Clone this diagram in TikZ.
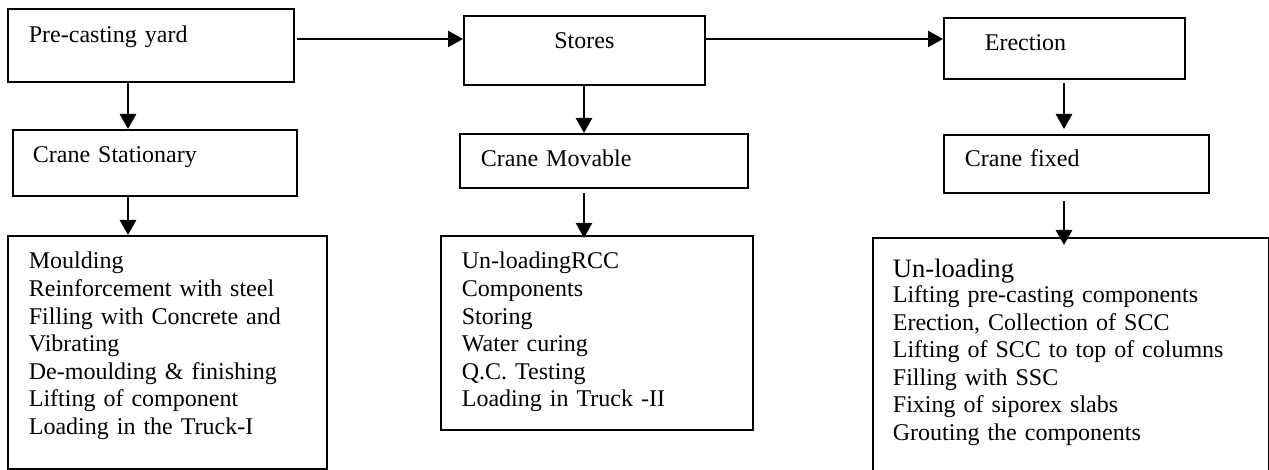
\documentclass[tikz,border=0pt]{standalone}
\usepackage{fontspec}
\setmainfont{Liberation Serif}
\usepackage{tikz}
\usetikzlibrary{
arrows.meta,
positioning,
calc
}

\begin{document}
\begin{tikzpicture}[
x=0.5pt, y=-0.5pt,
box/.style={
draw,
line width=0.9pt,
anchor=north west,
inner ysep=0pt,
inner xsep=10.5pt,
align=left,
font=\fontsize{12}{13.8}\selectfont
},
arrow/.style={-{Triangle[length=7.5pt,width=8pt]},line width=1.3pt}
]

\clip (0,0) rectangle (1269,470);

% top row
\node[box,text width=122pt,text height=17pt,text depth=19.5pt] (yard) at (7,8) {Pre-casting yard};
\node[box,inner xsep=0pt,align=center,text width=120.5pt,text height=16.5pt,text depth=18pt] (stores) at (463,15) {Stores};
\node[box,inner xsep=20.5pt,text width=79.5pt,text height=16.5pt,text depth=14pt] (erection) at (943,17) {Erection};

% cranes
\node[box,inner xsep=10pt,text width=122pt,text height=16.5pt,text depth=16.5pt] (stationary) at (12,129) {Crane Stationary};
\node[box,text width=123pt,text height=16.5pt,text depth=10.5pt] (movable) at (459,133) {Crane Movable};
\node[box,text width=111.5pt,text height=16pt,text depth=13pt] (fixed) at (943,134) {Crane fixed};

% activities
\node[box,text width=138.5pt,text height=16.5pt,text depth=100pt] (yardtasks) at (7,235) {Moulding\\
Reinforcement with steel\\
Filling with Concrete and\\
Vibrating\\
De-moulding \& finishing\\
Lifting of component\\
Loading in the Truck-I};
\node[box,text width=135pt,text height=16.5pt,text depth=80.5pt] (storetasks) at (440,235) {Un-loadingRCC\\
Components\\
Storing\\
Water curing\\
Q.C. Testing\\
Loading in Truck -II};
\node[box,inner xsep=10pt,text width=178pt,text height=20pt,text depth=101.5pt] (erecttasks) at (872,237) {{\fontsize{13.3}{14}\selectfont Un-loading}\\[-1.5pt]
Lifting pre-casting components\\
Erection, Collection of SCC\\
Lifting of SCC to top of columns\\
Filling with SSC\\
Fixing of siporex slabs\\
Grouting the components};

\draw[arrow,shorten <=1pt] (yard.east |- 0,39) -- (stores.west |- 0,39);
\draw[arrow] (stores.east |- 0,39) -- (erection.west |- 0,39);
\draw[arrow] (yard.south -| 128,0) -- (stationary.north -| 128,0);
\draw[arrow] (stationary.south -| 128,0) -- (yardtasks.north -| 128,0);
\draw[arrow] (stores.south -| 584,0) -- (movable.north -| 584,0);
\draw[arrow,shorten <=2pt,shorten >=-1.5pt] (movable.south -| 584,0) -- (storetasks.north -| 584,0);
\draw[arrow,shorten <=1.5pt,shorten >=2.5pt] (erection.south -| 1064,0) -- (fixed.north -| 1064,0);
\draw[arrow,shorten <=3.5pt,shorten >=-4pt] (fixed.south -| 1064,0) -- (erecttasks.north -| 1064,0);

\end{tikzpicture}
\end{document}
